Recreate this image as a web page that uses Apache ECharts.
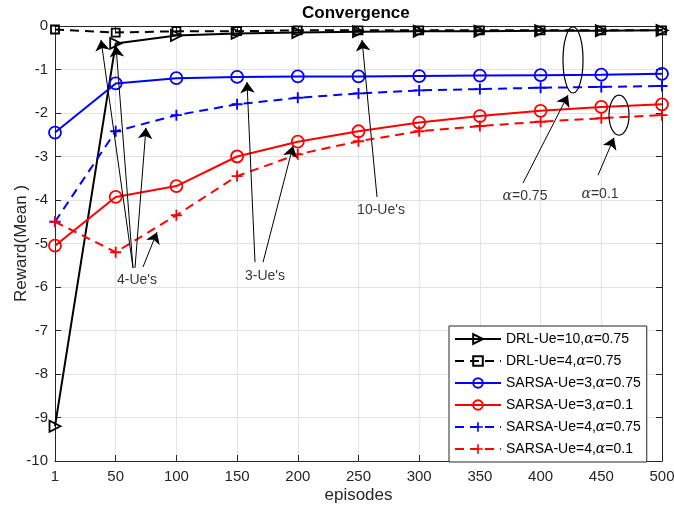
<!DOCTYPE html>
<html><head><meta charset="utf-8">
<script src="https://cdn.jsdelivr.net/npm/echarts@6/dist/echarts.min.js"></script>
<style>html,body{margin:0;padding:0;background:#fff}#c{width:674px;height:506px}</style>
</head><body><div id="c"></div>
<script>
// x tick labels (episodes)
const episodes = ['1','50','100','150','200','250','300','350','400','450','500'];
// series values
const drlUe10a075   = [-9.2, -0.4, -0.22, -0.17, -0.15, -0.13, -0.12, -0.12, -0.11, -0.11, -0.1];
const drlUe4a075    = [-0.08, -0.15, -0.12, -0.12, -0.1, -0.1, -0.1, -0.1, -0.1, -0.1, -0.1];
const sarsaUe3a075  = [-2.45, -1.32, -1.2, -1.17, -1.16, -1.16, -1.15, -1.14, -1.13, -1.12, -1.1];
const sarsaUe3a01   = [-5.05, -3.93, -3.68, -3.0, -2.66, -2.42, -2.22, -2.07, -1.95, -1.86, -1.8];
const sarsaUe4a075  = [-4.5, -2.42, -2.05, -1.8, -1.65, -1.55, -1.48, -1.45, -1.42, -1.4, -1.38];
const sarsaUe4a01   = [-4.5, -5.2, -4.35, -3.45, -2.95, -2.65, -2.42, -2.3, -2.2, -2.12, -2.05];
// annotations in data coords (x = episode index, y = reward)
const arrows = [
  [1.285,-5.56, 0.758,-0.32],
  [1.285,-5.56, 1.005,-0.46],
  [1.318,-5.56, 1.499,-2.34],
  [1.450,-5.54, 1.680,-4.74],
  [3.295,-5.43, 3.163,-1.29],
  [3.427,-5.43, 3.921,-2.76],
  [5.305,-3.93, 5.058,-0.32],
  [7.710,-3.61, 8.451,-1.59],
  [8.946,-3.43, 9.209,-2.57]
];
const notes = [
  [1.351,-5.84,"4-Ue's"],
  [3.460,-5.75,"3-Ue's"],
  [5.371,-4.23,"10-Ue's"],
  [7.743,-3.91,"{a|α}=0.75"],
  [8.979,-3.86,"{a|α}=0.1"]
];
const ellipses = [
  [8.534,-0.78, 0.165, 0.76],
  [9.292,-2.05, 0.165, 0.46]
];

const FONT = 'Liberation Sans, Arial, sans-serif';
const toXY = arr => arr.map((v,i)=>[i,v]);
const plus = 'path://M-1,-0.17 L-0.17,-0.17 L-0.17,-1 L0.17,-1 L0.17,-0.17 L1,-0.17 L1,0.17 L0.17,0.17 L0.17,1 L-0.17,1 L-0.17,0.17 L-1,0.17 Z';
const dash = [9,6];

function mk(name, data, color, symbol, size, dashed, extra){
  return Object.assign({
    name, type:'line', data: toXY(data), symbol, symbolSize:size,
    lineStyle:{color, width:2, type: dashed?dash:'solid'},
    itemStyle:{color:'rgba(255,255,255,0)', borderColor:color, borderWidth:1.8},
    z:3, animation:false
  }, extra||{});
}

const chart = echarts.init(document.getElementById('c'), null, {renderer:'canvas'});
const axisCommon = {
  type:'value', min:0, max:10, interval:1
};
chart.setOption({
  animation:false,
  backgroundColor:'#fff',
  title:{text:'Convergence', left:302, top:5, padding:0,
    textStyle:{fontFamily:FONT, fontSize:17, fontWeight:'bold', color:'#000'}},
  grid:{left:55, right:12, top:26, bottom:45, containLabel:false, outerBoundsMode:'none'},
  legend:{
    orient:'vertical', left:449, top:326, padding:[6,6,6,5],
    itemWidth:46, itemHeight:12, itemGap:8,
    backgroundColor:'#fff', borderColor:'#262626', borderWidth:1,
    textStyle:{fontFamily:FONT, fontSize:14, color:'#000',
      rich:{a:{fontFamily:'DejaVu Serif', fontStyle:'italic', fontSize:14, color:'#000'}}},
    formatter: n => n.replace('α','{a|α}'),
    data:['DRL-Ue=10,α=0.75','DRL-Ue=4,α=0.75','SARSA-Ue=3,α=0.75','SARSA-Ue=3,α=0.1','SARSA-Ue=4,α=0.75','SARSA-Ue=4,α=0.1']
  },
  xAxis:[
    Object.assign({}, axisCommon, {position:'bottom',
      name:'episodes', nameLocation:'middle', nameGap:26, nameMoveOverlap:false,
      nameTextStyle:{fontFamily:FONT, fontSize:17, color:'#262626'},
      axisLine:{show:true, onZero:false, lineStyle:{color:'#262626', width:1}},
      axisTick:{show:true, inside:true, length:6, lineStyle:{color:'#262626'}},
      axisLabel:{show:true, margin:8, fontFamily:FONT, fontSize:15, color:'#262626',
        formatter: v => episodes[Math.round(v)]},
      splitLine:{show:true, lineStyle:{color:'#e3e3e3', width:1}}}),
    Object.assign({}, axisCommon, {position:'top',
      axisLine:{show:true, onZero:false, lineStyle:{color:'#262626', width:1}},
      axisTick:{show:true, inside:true, length:6, lineStyle:{color:'#262626'}},
      axisLabel:{show:false}, splitLine:{show:false}})
  ],
  yAxis:[
    {type:'value', min:-10, max:0, interval:1, position:'left',
      name:'Reward(Mean )', nameLocation:'middle', nameGap:25, nameMoveOverlap:false,
      nameTextStyle:{fontFamily:FONT, fontSize:17, color:'#262626'},
      axisLine:{show:true, onZero:false, lineStyle:{color:'#262626', width:1}},
      axisTick:{show:true, inside:true, length:6, lineStyle:{color:'#262626'}},
      axisLabel:{show:true, margin:7, fontFamily:FONT, fontSize:15, color:'#262626'},
      splitLine:{show:true, lineStyle:{color:'#e3e3e3', width:1}}},
    {type:'value', min:-10, max:0, interval:1, position:'right',
      axisLine:{show:true, onZero:false, lineStyle:{color:'#262626', width:1}},
      axisTick:{show:true, inside:true, length:6, lineStyle:{color:'#262626'}},
      axisLabel:{show:false}, splitLine:{show:false}}
  ],
  series:[
    mk('DRL-Ue=10,α=0.75', drlUe10a075, '#000', 'triangle', 11, false, {symbolRotate:-90}),
    mk('DRL-Ue=4,α=0.75', drlUe4a075, '#000', 'rect', 8, true),
    mk('SARSA-Ue=3,α=0.75', sarsaUe3a075, '#0000ff', 'circle', 12, false),
    mk('SARSA-Ue=3,α=0.1', sarsaUe3a01, '#ff0000', 'circle', 12, false),
    mk('SARSA-Ue=4,α=0.75', sarsaUe4a075, '#0000ff', plus, 11, true, {itemStyle:{color:'#0000ff', borderWidth:0}}),
    mk('SARSA-Ue=4,α=0.1', sarsaUe4a01, '#ff0000', plus, 11, true, {itemStyle:{color:'#ff0000', borderWidth:0}}),
    {type:'lines', coordinateSystem:'cartesian2d', xAxisIndex:0, yAxisIndex:0,
      symbol:['none','arrow'], symbolSize:[8,11], silent:true, z:5,
      lineStyle:{color:'#000', width:1, opacity:1, curveness:0},
      data: arrows.map(a=>({coords:[[a[0],a[1]],[a[2],a[3]]]}))},
    {type:'scatter', symbolSize:0, silent:true, z:6,
      data: notes.map(n=>({value:[n[0],n[1]], name:n[2]})),
      label:{show:true, position:'inside', formatter: p => p.name,
        fontFamily:FONT, fontSize:14, color:'#000',
        rich:{a:{fontFamily:'DejaVu Serif', fontStyle:'italic', fontSize:14, color:'#000'}}}}
  ]
});

const gfx = ellipses.map(e=>{
  const c = chart.convertToPixel({gridIndex:0}, [e[0], e[1]]);
  const r = chart.convertToPixel({gridIndex:0}, [e[0]+e[2], e[1]+e[3]]);
  return {type:'ellipse', silent:true, z:10,
    shape:{cx:c[0], cy:c[1], rx:Math.abs(r[0]-c[0]), ry:Math.abs(r[1]-c[1])},
    style:{fill:null, stroke:'#000', lineWidth:1.2}};
});
chart.setOption({graphic: gfx});
</script>
</body></html>
